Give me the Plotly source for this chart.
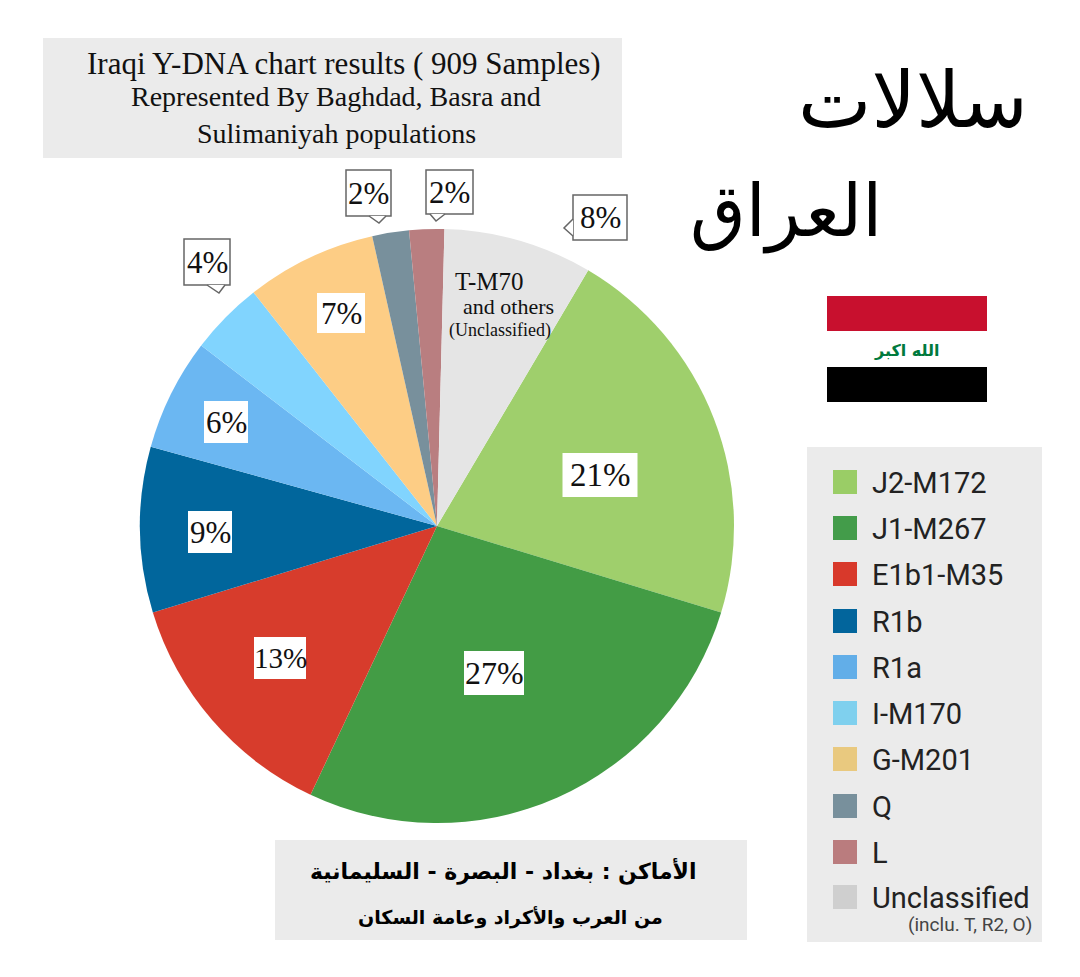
import plotly.graph_objects as go

W, H = 1080, 977

# ---- data ----
labels = ["J2-M172", "J1-M267", "E1b1-M35", "R1b", "R1a", "I-M170", "G-M201", "Q", "L", "Unclassified"]
values = [21.2, 27.3, 13.3, 9.0, 6.1, 4.0, 7.1, 2.0, 1.9, 8.1]
pct_text = ["21%", "27%", "13%", "9%", "6%", "4%", "7%", "2%", "2%", "8%"]
slice_colors = ["#9FCF6C", "#439C45", "#D73C2C", "#01669C", "#6BB7F2", "#81D4FE", "#FDCD85", "#78909C", "#B97E80", "#E5E5E5"]
legend_colors = ["#9ACD66", "#439C4A", "#D8392B", "#02659C", "#62AEE8", "#7FD0EE", "#E9C97F", "#78909C", "#BA7C7E", "#CFCFCF"]

def X(p): return p / W
def Y(p): return 1 - p / H

fig = go.Figure(go.Pie(
    labels=labels, values=values, sort=False, direction="clockwise", rotation=30.6,
    textinfo="none", hoverinfo="label+percent", showlegend=False,
    marker=dict(colors=slice_colors, line=dict(width=0)),
    domain=dict(x=[X(140), X(734)], y=[Y(823), Y(229)]),
))

shapes, ann = [], []

def rect(x0, y0, x1, y1, fill, line=None, lw=0):
    shapes.append(dict(type="rect", xref="paper", yref="paper", x0=X(x0), x1=X(x1), y0=Y(y1), y1=Y(y0),
                       fillcolor=fill, line=dict(color=line or fill, width=lw), layer="above"))

def text(t, x, y, size, font="Liberation Serif", color="#111111", anchor="center", **kw):
    ann.append(dict(text=t, x=X(x), y=Y(y), xref="paper", yref="paper", showarrow=False, xanchor=anchor,
                    yanchor="middle", font=dict(family=font, size=size, color=color), **kw))

# panels
rect(43, 38, 622, 158, "#EBEBEB")
rect(275, 840, 747, 940, "#EBEBEB")
rect(807, 447, 1042, 942, "#EBEBEB")

# flag
rect(827, 296, 987, 331, "#C8102E")
rect(827, 367, 987, 402, "#000000")
text("<b>الله اكبر</b>", 907, 350, 16, font="DejaVu Sans", color="#007A3D")

# Arabic headline
text("سلالات", 913, 100, 78, font="DejaVu Sans", color="#000000")
text("العراق", 786, 212, 72, font="DejaVu Sans", color="#000000")

# title box
text("Iraqi Y-DNA chart results ( 909 Samples)", 344, 64, 31)
text("Represented By Baghdad, Basra and", 336, 96, 28)
text("Sulimaniyah populations", 336, 133, 28)

# bottom box
text("<b>الأماكن : بغداد - البصرة - السليمانية</b>", 503, 871, 22, font="DejaVu Sans", color="#000000")
text("<b>من العرب والأكراد وعامة السكان</b>", 510, 917, 19, font="DejaVu Sans", color="#000000")

# legend drawn from categories
legend_y = [482, 528, 574, 621, 667, 713, 759, 806, 852, 897]
for name, col, ly in zip(labels, legend_colors, legend_y):
    rect(833, ly - 12, 857, ly + 12, col)
    text(name, 870, ly + 1, 29, font="Roboto", color="#222222", anchor="left")
text("(inclu. T, R2, O)", 906, 924, 19, font="Roboto", color="#444444", anchor="left")

# in-slice labels: index into pct_text -> box centre, box size, font size
inside = {0: (600, 475, 75, 44, 33), 1: (494, 673, 60, 44, 32), 2: (280, 658, 52, 42, 29), 3: (210, 532, 44, 42, 31),
          4: (226, 422, 44, 42, 31), 6: (341, 313, 48, 40, 31)}
for i, (cx, cy, w, h, fs) in inside.items():
    rect(cx - w / 2, cy - h / 2, cx + w / 2, cy + h / 2, "#FFFFFF")
    text(pct_text[i], cx, cy, fs)

# callout labels: index -> box and tail
callouts = {
    5: ((184, 239, 230, 285), [(207, 285), (219, 293), (225, 285)]),
    7: ((346, 170, 391, 216), [(369, 216), (379, 223), (386, 216)]),
    8: ((426, 170, 473, 214), [(430, 214), (436, 221), (445, 214)]),
    9: ((573, 195, 627, 240), [(573, 219), (564, 228), (573, 236)]),
}
for i, (b, tail) in callouts.items():
    rect(*b, "#FFFFFF", line="#666666", lw=1.5)
    d = "M" + " L".join(f"{X(a)},{Y(c)}" for a, c in tail)
    shapes.append(dict(type="path", xref="paper", yref="paper", path=d, fillcolor="#FFFFFF",
                       line=dict(color="#666666", width=1.5), layer="above"))
    text(pct_text[i], (b[0] + b[2]) / 2, (b[1] + b[3]) / 2, 31)

# unclassified slice note
text("T-M70", 489, 281, 25)
text("and others", 508, 306, 22)
text("(Unclassified)", 500, 330, 18)

fig.update_layout(width=W, height=H, margin=dict(l=0, r=0, t=0, b=0), paper_bgcolor="#FFFFFF",
                  shapes=shapes, annotations=ann, showlegend=False)
fig.write_html("out.html", post_script="document.body.style.margin='0';", config={"displayModeBar": False})
